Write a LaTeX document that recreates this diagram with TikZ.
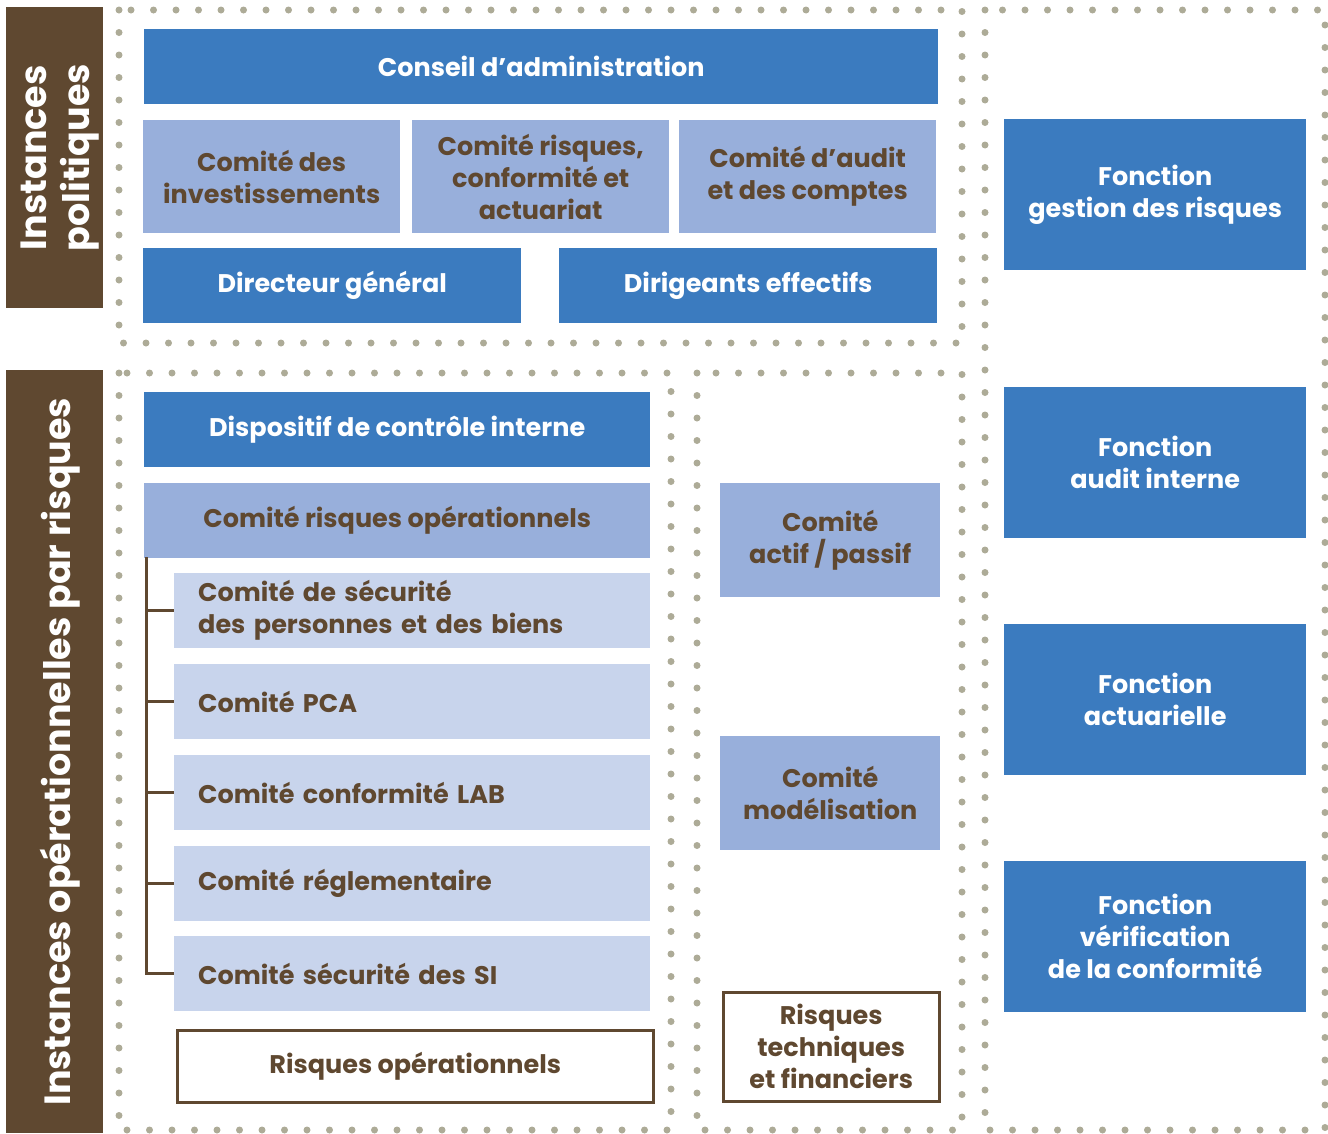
\documentclass[tikz,border=0pt]{standalone}
\usepackage{fontspec}
\setmainfont{Poppins}
\usepackage{tikz}
\usetikzlibrary{positioning}
\definecolor{bleu}{HTML}{3B7BBF}
\definecolor{bleuclair}{HTML}{98AFDB}
\definecolor{bleupale}{HTML}{C8D4EC}
\definecolor{brun}{HTML}{5F4830}
\definecolor{gris}{HTML}{ADAB97}
\newcommand{\texte}{\bfseries\fontsize{25.5}{32}\selectfont}
\newcommand{\grandtexte}{\bfseries\fontsize{36.5}{43}\selectfont}

\begin{document}
\begin{tikzpicture}[x=1pt,y=-1pt,
  boite/.style={rectangle,inner sep=0pt,anchor=north west,align=center,font=\texte},
  fonce/.style={boite,fill=bleu,text=white},
  moyen/.style={boite,fill=bleuclair,text=brun},
  pale/.style={boite,fill=bleupale,text=brun,align=left,inner xsep=24pt,text width=428pt,minimum height=75pt},
  cadre/.style={boite,draw=brun,line width=2.5pt,fill=white,text=brun},
  bandeau/.style={rectangle,inner sep=0pt,fill=brun,anchor=north west},
  titre/.style={inner sep=0pt,text=white,rotate=90,align=center,font=\grandtexte},
  pointille/.style={draw=gris,line width=7pt,line cap=round,dash pattern=on 0pt off 22.5pt},
  branche/.style={draw=brun,line width=3pt}]
\useasboundingbox (0,0) rectangle (1328,1133);
% cadres en pointilles
\draw[pointille] (119,10) rectangle (962,343);
\draw[pointille] (119,373) rectangle (671,1130);
\draw[pointille] (697,373) rectangle (962,1130);
\draw[pointille] (985,10) rectangle (1325,1130);
% bandeaux de gauche
\node[bandeau,minimum width=97,minimum height=301] (politiques) at (6,7) {};
\node[titre] (titrepol) at ([xshift=5]politiques.center) {Instances\\politiques};
\node[bandeau,minimum width=97,minimum height=763] (operationnelles) at (6,370) {};
\node[titre] (titreop) at ([xshift=5]operationnelles.center) {Instances opérationnelles par risques};
% instances politiques
\node[fonce,minimum width=794,minimum height=75] (conseil) at (144,29) {Conseil d’administration};
\node[moyen,minimum width=257,minimum height=113] (investissements) at (143,120) {Comité des\\investissements};
\node[moyen,minimum width=257,minimum height=113] (actuariat) at (412,120) {Comité risques,\\conformité et\\actuariat};
\node[moyen,minimum width=257,minimum height=113] (audit) at (679,120) {Comité d’audit\\et des comptes};
\node[fonce,minimum width=378,minimum height=75] (directeur) at (143,248) {Directeur général};
\node[fonce,minimum width=378,minimum height=75] (dirigeants) at (559,248) {Dirigeants effectifs};
% risques operationnels
\node[fonce,minimum width=506,minimum height=75] (controle) at (144,392) {Dispositif de contrôle interne};
\node[moyen,minimum width=506,minimum height=75] (cro) at (144,483) {Comité risques opérationnels};
\node[pale] (securite) at (174,573) {Comité de sécurité\\des personnes et des biens};
\node[pale] (pca) at (174,664) {Comité PCA};
\node[pale] (lab) at (174,755) {Comité conformité LAB};
\node[pale] (reglementaire) at (174,846) {Comité réglementaire};
\node[pale] (si) at (174,936) {Comité sécurité des SI};
\node[cadre,minimum width=476,minimum height=72] (riskop) at (176,1029) {Risques opérationnels};
\coordinate (tronc) at (146,557);
\foreach \c in {securite,pca,lab,reglementaire,si}
  \draw[branche] (tronc) |- (\c.west);
% risques techniques et financiers
\node[moyen,minimum width=220,minimum height=114] (actifpassif) at (720,483) {Comité\\actif / passif};
\node[moyen,minimum width=220,minimum height=114] (modelisation) at (720,736) {Comité\\modélisation};
\node[cadre,minimum width=216,minimum height=109] (risktech) at (722,991) {Risques\\techniques\\et financiers};
% fonctions cles
\node[fonce,minimum width=302,minimum height=151] (gestion) at (1004,119) {Fonction\\gestion des risques};
\node[fonce,minimum width=302,minimum height=151] (auditint) at (1004,387) {Fonction\\audit interne};
\node[fonce,minimum width=302,minimum height=151] (actuarielle) at (1004,624) {Fonction\\actuarielle};
\node[fonce,minimum width=302,minimum height=151] (verification) at (1004,861) {Fonction\\vérification\\de la conformité};
\end{tikzpicture}
\end{document}
